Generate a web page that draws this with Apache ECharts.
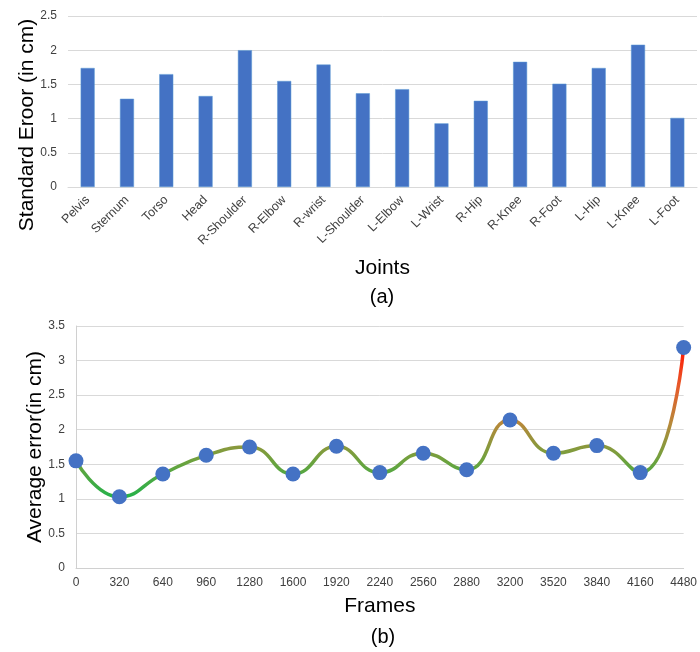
<!DOCTYPE html>
<html>
<head>
<meta charset="utf-8">
<script src="https://cdn.jsdelivr.net/npm/echarts@6/dist/echarts.min.js"></script>
<style>
html,body{margin:0;padding:0;background:#fff;}
#c{width:700px;height:652px;}
</style>
</head>
<body>
<div id="c"></div>
<script>
var joints = ['Pelvis','Sternum','Torso','Head','R-Shoulder','R-Elbow','R-wrist','L-Shoulder','L-Elbow','L-Wrist','R-Hip','R-Knee','R-Foot','L-Hip','L-Knee','L-Foot'];
var stdError = [1.74,1.29,1.65,1.33,2.00,1.55,1.79,1.37,1.43,0.93,1.26,1.83,1.51,1.74,2.08,1.01];
var frames = ['0','320','640','960','1280','1600','1920','2240','2560','2880','3200','3520','3840','4160','4480'];
var avgError = [1.55,1.03,1.36,1.63,1.75,1.36,1.76,1.38,1.66,1.42,2.14,1.66,1.77,1.38,3.19];
var topTicks = {min:0,max:2.5,interval:0.5};
var botTicks = {min:0,max:3.5,interval:0.5};
var topYName = 'Standard Eroor (in cm)';
var botYName = 'Average error(in cm)';

var FONT = '"Liberation Sans", Arial, sans-serif';
var chart = echarts.init(document.getElementById('c'), null, {renderer:'canvas'});
var gridLine = {show:true, lineStyle:{color:'#d9d9d9', width:1}};
var tickLbl = {color:'#404040', fontSize:12, fontFamily:FONT};

chart.setOption({
  animation:false,
  backgroundColor:'#fff',
  grid:[
    {left:68, right:3, top:16, height:171},
    {left:76, right:14, top:326, height:242}
  ],
  visualMap:{
    show:false, type:'continuous', seriesIndex:1, dimension:1,
    min:1, max:3.2,
    inRange:{color:['#22b24a','#6ea23e','#b8883a','#e8582a','#ff1400']}
  },
  graphic:[
    {type:'text', x:382, y:297, style:{text:'(a)', fontSize:20, fontFamily:FONT, fill:'#000', textAlign:'center', textVerticalAlign:'middle'}},
    {type:'text', x:383, y:637, style:{text:'(b)', fontSize:20, fontFamily:FONT, fill:'#000', textAlign:'center', textVerticalAlign:'middle'}},
    {type:'text', x:27, y:125, rotation:Math.PI/2, style:{text:topYName, fontSize:21, fontFamily:FONT, fill:'#000', textAlign:'center', textVerticalAlign:'middle'}},
    {type:'text', x:35, y:447, rotation:Math.PI/2, style:{text:botYName, fontSize:21, fontFamily:FONT, fill:'#000', textAlign:'center', textVerticalAlign:'middle'}}
  ],
  xAxis:[
    {type:'category', gridIndex:0, data:joints,
     axisLine:{show:true, lineStyle:{color:'#d9d9d9'}}, axisTick:{show:false},
     axisLabel:{rotate:45, interval:0, margin:11, color:'#404040', fontSize:12.5, fontFamily:FONT},
     name:'Joints', nameLocation:'middle', nameGap:71,
     nameTextStyle:{fontSize:21, fontFamily:FONT, color:'#000'}},
    {type:'category', gridIndex:1, data:frames, boundaryGap:false,
     axisLine:{show:true, lineStyle:{color:'#d0d0d0'}}, axisTick:{show:false},
     axisLabel:Object.assign({interval:0, margin:9}, tickLbl),
     name:'Frames', nameLocation:'middle', nameGap:28,
     nameTextStyle:{fontSize:21, fontFamily:FONT, color:'#000'}}
  ],
  yAxis:[
    {type:'value', gridIndex:0, min:topTicks.min, max:topTicks.max, interval:topTicks.interval,
     axisLine:{show:false}, axisTick:{show:false}, splitLine:gridLine,
     axisLabel:Object.assign({margin:11}, tickLbl)},
    {type:'value', gridIndex:1, min:botTicks.min, max:botTicks.max, interval:botTicks.interval,
     axisLine:{show:true, lineStyle:{color:'#d0d0d0'}}, axisTick:{show:false}, splitLine:gridLine,
     axisLabel:Object.assign({margin:11}, tickLbl)}
  ],
  series:[
    {type:'bar', xAxisIndex:0, yAxisIndex:0, data:stdError, barWidth:14,
     itemStyle:{color:'#4472c4', borderColor:'#5b9bd5', borderWidth:0.5}},
    {type:'line', xAxisIndex:1, yAxisIndex:1, data:avgError, smooth:0.5,
     showSymbol:false, lineStyle:{width:3.5}, z:2},
    {type:'line', xAxisIndex:1, yAxisIndex:1, data:avgError,
     lineStyle:{opacity:0}, symbol:'circle', symbolSize:15,
     itemStyle:{color:'#4472c4'}, z:3}
  ]
});
</script>
</body>
</html>
